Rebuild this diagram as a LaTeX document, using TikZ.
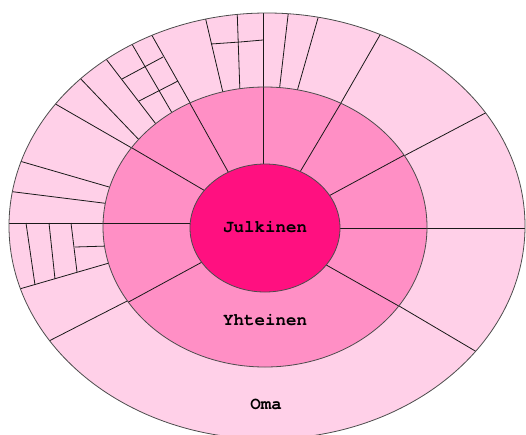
\documentclass[tikz,border=0pt]{standalone}
\usepackage{fontspec}
\usepackage{tikz}
\newfontfamily\cursorfont{texgyrecursor}[Extension=.otf, UprightFont=*-regular, BoldFont=*-bold]
\definecolor{julkpink}{RGB}{255, 16, 128}
\definecolor{yhtpink}{RGB}{255, 143, 197}
\definecolor{omapink}{RGB}{255, 208, 232}

\begin{document}
\begin{tikzpicture}[x=1pt, y=-1pt,
  rim/.style={draw=black!70, line width=0.8pt},
  cut/.style={draw=black!90, line width=0.8pt},
  lbl/.style={font=\cursorfont\bfseries\fontsize{17.5}{18}\selectfont, inner sep=0pt},
]
  \useasboundingbox (0,0) rectangle (526,434);

  % Outer ring
  \fill[omapink] (267,226) ellipse [x radius=258pt, y radius=213pt];
  \begin{scope}
    \clip (267,226) ellipse [x radius=258pt, y radius=213pt];
    \draw[cut] (420,228) -- (532,228);
    \draw[cut] (394,303) -- (482,355);
    \draw[cut] (400,158) -- (493,109);
    \draw[cut] (338,108) -- (384,28);
    \draw[cut] (296,95) -- (320,11);
    \draw[cut] (279,93) -- (289,7);
    \draw[cut] (263,93) -- (263,6);
    \draw[cut] (240,94) -- (237,7);
    \draw[cut] (224,97) -- (204,12);
    \draw[cut] (193,108) -- (150,32);
    \draw[cut] (175,118) -- (129,39);
    \draw[cut] (159,128) -- (103,55);
    \draw[cut] (143,144) -- (78,76);
    \draw[cut] (137,151) -- (52,102);
    \draw[cut] (116,189) -- (16,160);
    \draw[cut] (111,204) -- (7,191);
    \draw[cut] (111,223) -- (3,223);
    \draw[cut] (116,261) -- (16,290);
    \draw[cut] (133,298) -- (47,342);
    % inner splits of the outer ring
    \draw[cut] (122,79) -- (163,57);
    \draw[cut] (139,101) -- (178,81);
    \draw[cut] (211,44) -- (240,42) -- (263,40);
    \draw[cut] (26,223) -- (35,285);
    \draw[cut] (49,223) -- (55,279);
    \draw[cut] (71,223) -- (77,272);
    \draw[cut] (75,247) -- (108,246);
  \end{scope}

  % Middle ring
  \fill[yhtpink] (265,227) ellipse [x radius=162pt, y radius=140pt];
  \begin{scope}
    \clip (265,227) ellipse [x radius=162pt, y radius=140pt];
    \draw[cut] (330,228) -- (432,228);
    \draw[cut] (321,262) -- (404,309);
    \draw[cut] (325,198) -- (410,152);
    \draw[cut] (297,177) -- (344,98);
    \draw[cut] (263,170) -- (263,80);
    \draw[cut] (231,177) -- (187,98);
    \draw[cut] (207,192) -- (127,145);
    \draw[cut] (195,223) -- (100,223);
    \draw[cut] (204,261) -- (123,305);
  \end{scope}

  % Centre
  \fill[julkpink] (265,228) ellipse [x radius=75pt, y radius=64pt];

  % Rims
  \draw[rim] (267,226) ellipse [x radius=258pt, y radius=213pt];
  \draw[rim] (265,227) ellipse [x radius=162pt, y radius=140pt];
  \draw[rim] (265,228) ellipse [x radius=75pt, y radius=64pt];

  % Labels
  \node[lbl] (julkinen) at (265,227) {Julkinen};
  \node[lbl] (yhteinen) at (265,320) {Yhteinen};
  \node[lbl] (oma) at (266,404) {Oma};
\end{tikzpicture}
\end{document}
